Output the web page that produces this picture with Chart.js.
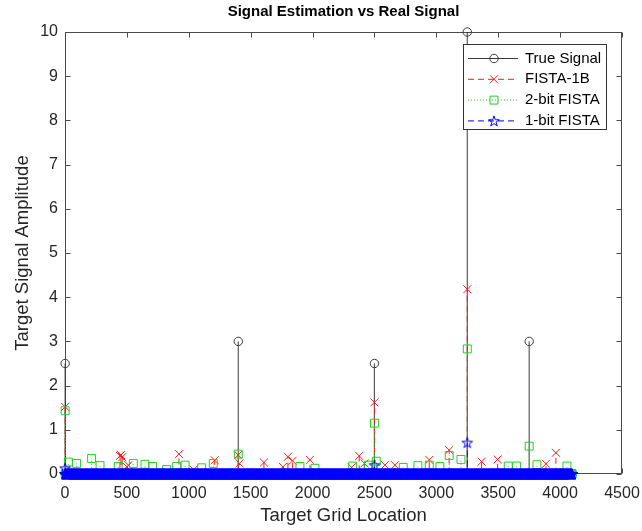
<!DOCTYPE html>
<html>
<head>
<meta charset="utf-8">
<script src="https://cdn.jsdelivr.net/npm/chart.js@4.4.1/dist/chart.umd.min.js"></script>
<style>
html,body{margin:0;padding:0;background:#fff;}
#wrap{width:642px;height:531px;position:relative;}
</style>
</head>
<body>
<div id="wrap"><canvas id="c"></canvas></div>
<script>
// ---------------- data ----------------
const gridCount = 4096;                 // target grid locations 1..4096 (all other values read as 0)
const xTickValues = [0, 500, 1000, 1500, 2000, 2500, 3000, 3500, 4000, 4500];
const yTickValues = [0, 1, 2, 3, 4, 5, 6, 7, 8, 9, 10];
const seriesNames = ['True Signal', 'FISTA-1B', '2-bit FISTA', '1-bit FISTA'];

const trueLoc = [1, 1400, 2500, 3250, 3750];
const trueAmp = [2.5, 3, 2.5, 10, 3];

const fista1bLoc = [1, 444, 452, 462, 500, 512, 921, 1040, 1210, 1399, 1410, 1607, 1761, 1801, 1839, 1979,
                    2316, 2377, 2420, 2500, 2585, 2666, 2943, 3104, 3250, 3366, 3495, 3886, 3966];
const fista1bAmp = [1.52, 0.41, 0.43, 0.38, 0.16, 0.2, 0.45, 0.1, 0.31, 0.43, 0.24, 0.26, 0.16, 0.39, 0.3, 0.32,
                    0.15, 0.41, 0.24, 1.62, 0.2, 0.2, 0.32, 0.54, 4.18, 0.28, 0.33, 0.23, 0.48];

const twoBitLoc = [1, 27, 94, 215, 283, 430, 552, 646, 708, 821, 902, 970, 1104, 1198, 1400, 1898, 2020,
                   2324, 2450, 2500, 2515, 2733, 2851, 2943, 3029, 3104, 3199, 3250, 3581, 3649, 3750, 3813, 4055];
const twoBitAmp = [1.43, 0.27, 0.24, 0.35, 0.19, 0.17, 0.24, 0.22, 0.17, 0.1, 0.17, 0.2, 0.14, 0.24, 0.45, 0.17, 0.13,
                   0.18, 0.2, 1.15, 0.29, 0.15, 0.19, 0.2, 0.17, 0.42, 0.33, 2.83, 0.18, 0.18, 0.63, 0.21, 0.18];

const oneBitLoc = [1, 2500, 3250];
const oneBitAmp = [0.13, 0.2, 0.71];

// ---------------- helpers ----------------
function stemData(locs, amps) {
  const m = new Map();
  locs.forEach((l, i) => m.set(l, amps[i]));
  const pts = [];
  for (let i = 1; i <= gridCount; i++) {
    const v = m.has(i) ? m.get(i) : 0;
    if (v !== 0) {
      pts.push({x: i, y: 0, m: false});
      pts.push({x: i, y: v, m: true});
      pts.push({x: i, y: null, m: false});
    } else {
      pts.push({x: i, y: 0, m: true});
    }
  }
  return pts;
}

function makeStar(color) {
  const c = document.createElement('canvas');
  c.width = 16; c.height = 16;
  const g = c.getContext('2d');
  const R = 5.6, r = R * 0.382, cx = 8, cy = 8.5;
  g.beginPath();
  for (let k = 0; k < 10; k++) {
    const a = -Math.PI / 2 + k * Math.PI / 5;
    const rr = k % 2 === 0 ? R : r;
    const px = cx + rr * Math.cos(a), py = cy + rr * Math.sin(a);
    if (k === 0) g.moveTo(px, py); else g.lineTo(px, py);
  }
  g.closePath();
  g.strokeStyle = color; g.lineWidth = 1; g.stroke();
  return c;
}
const starImg = makeStar('#0000ff');

const FONT = "'Liberation Sans', Arial, Helvetica, sans-serif";
const styles = [
  {color: '#3a3a3a', dash: [],     pointStyle: 'circle',   radius: 4.2},
  {color: '#ee2020', dash: [6, 4], pointStyle: 'crossRot', radius: 5.6},
  {color: '#22d022', dash: [1, 2], pointStyle: 'rect',     radius: 5.6},
  {color: '#0000ff', dash: [6, 4], pointStyle: starImg,    radius: 6}
];
const seriesData = [
  stemData(trueLoc, trueAmp),
  stemData(fista1bLoc, fista1bAmp),
  stemData(twoBitLoc, twoBitAmp),
  stemData(oneBitLoc, oneBitAmp)
];

const datasets = seriesNames.map((name, i) => ({
  label: name,
  data: seriesData[i],
  showLine: true,
  spanGaps: false,
  borderColor: styles[i].color,
  backgroundColor: 'rgba(0,0,0,0)',
  borderWidth: 1,
  borderDash: styles[i].dash,
  pointStyle: styles[i].pointStyle,
  pointBorderColor: styles[i].color,
  pointBackgroundColor: 'rgba(0,0,0,0)',
  pointBorderWidth: 1,
  pointRadius: ctx => (ctx.raw && ctx.raw.m) ? styles[i].radius : 0,
  pointHoverRadius: 0,
  order: 4 - i,
  clip: false
}));

// frame with inward ticks (MATLAB box)
const framePlugin = {
  id: 'frame',
  beforeDatasetsDraw(chart) {
    const {ctx, chartArea: a, scales} = chart;
    const L = Math.round(a.left) + 0.5, R = Math.round(a.right) - 0.5;
    const T = Math.round(a.top) + 0.5, B = Math.round(a.bottom) - 0.5;
    ctx.save();
    ctx.strokeStyle = '#4a4a4a';
    ctx.lineWidth = 1;
    ctx.strokeRect(L, T, R - L, B - T);
    const tl = 5;
    ctx.beginPath();
    xTickValues.forEach(v => {
      const px = Math.round(scales.x.getPixelForValue(v)) + 0.5;
      ctx.moveTo(px, B); ctx.lineTo(px, B - tl);
      ctx.moveTo(px, T); ctx.lineTo(px, T + tl);
    });
    yTickValues.forEach(v => {
      const py = Math.round(scales.y.getPixelForValue(v)) + 0.5;
      ctx.moveTo(L, py); ctx.lineTo(L + tl, py);
      ctx.moveTo(R, py); ctx.lineTo(R - tl, py);
    });
    ctx.stroke();
    ctx.restore();
  }
};

// MATLAB-style legend box
const legendPlugin = {
  id: 'matLegend',
  afterDraw(chart) {
    const ctx = chart.ctx;
    const x0 = 463.5, y0 = 44.5, w = 143, h = 85;
    ctx.save();
    ctx.fillStyle = '#ffffff';
    ctx.fillRect(x0, y0, w, h);
    ctx.strokeStyle = '#333333';
    ctx.lineWidth = 1;
    ctx.strokeRect(x0, y0, w, h);
    seriesNames.forEach((name, i) => {
      const y = 58.5 + i * 20.8;
      const s = styles[i];
      ctx.setLineDash(s.dash);
      ctx.strokeStyle = s.color;
      ctx.lineWidth = 1;
      ctx.beginPath();
      ctx.moveTo(468, y); ctx.lineTo(518, y);
      ctx.stroke();
      ctx.setLineDash([]);
      ctx.fillStyle = 'rgba(0,0,0,0)';
      Chart.helpers.drawPoint(ctx, {pointStyle: s.pointStyle, radius: s.radius, borderWidth: 1, rotation: 0}, 494, y);
      ctx.fillStyle = '#000000';
      ctx.font = '15px ' + FONT;
      ctx.textBaseline = 'middle';
      ctx.textAlign = 'left';
      ctx.fillText(name, 525, y);
    });
    ctx.restore();
  }
};

new Chart(document.getElementById('c'), {
  type: 'scatter',
  data: {datasets},
  plugins: [framePlugin, legendPlugin],
  options: {
    responsive: true,
    maintainAspectRatio: false,
    animation: false,
    events: [],
    layout: {padding: {top: 0, right: 20, bottom: 0, left: 0}},
    plugins: {
      legend: {display: false},
      tooltip: {enabled: false},
      title: {
        display: true,
        fullSize: false,
        text: 'Signal Estimation vs Real Signal',
        color: '#000000',
        font: {family: FONT, size: 15, weight: 'bold', lineHeight: 1.2},
        padding: {top: 3, bottom: 11}
      }
    },
    scales: {
      x: {
        type: 'linear',
        min: 0, max: 4500,
        afterBuildTicks: s => { s.ticks = xTickValues.map(v => ({value: v})); },
        afterFit: s => { s.height = 57; s.paddingLeft = 0; s.paddingRight = 0; },
        grid: {display: false, drawTicks: false, tickLength: 0},
        border: {display: false},
        ticks: {color: '#262626', font: {family: FONT, size: 16}, padding: 10, maxRotation: 0, autoSkip: false,
                callback: v => String(v)},
        title: {display: true, text: 'Target Grid Location', color: '#262626',
                font: {family: FONT, size: 18.5, lineHeight: 1.2}, padding: {top: 0, bottom: 4}}
      },
      y: {
        type: 'linear',
        min: 0, max: 10,
        afterBuildTicks: s => { s.ticks = yTickValues.map(v => ({value: v})); },
        afterFit: s => { s.width = 65; s.paddingTop = 0; s.paddingBottom = 0; },
        grid: {display: false, drawTicks: false, tickLength: 0},
        border: {display: false},
        ticks: {color: '#262626', font: {family: FONT, size: 16}, padding: 7, autoSkip: false,
                callback: v => String(v)},
        title: {display: true, text: 'Target Signal Amplitude', color: '#262626',
                font: {family: FONT, size: 18.5, lineHeight: 1.2}, padding: {top: 12, bottom: 0}}
      }
    }
  }
});
</script>
</body>
</html>
